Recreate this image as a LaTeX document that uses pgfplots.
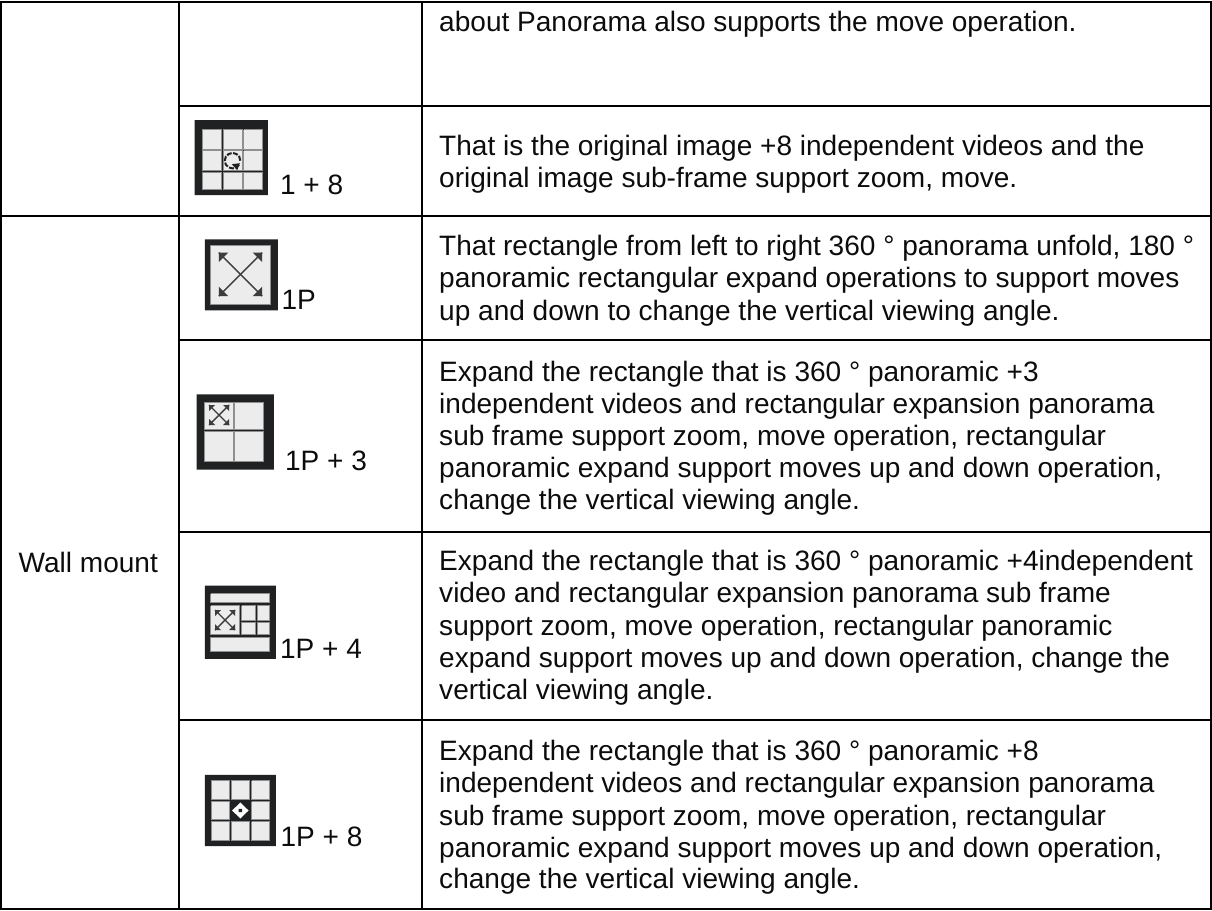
\documentclass[border=0pt]{standalone}
\usepackage{fontspec}
\setmainfont{Liberation Sans}
\usepackage{pgfplots}
\pgfplotsset{compat=1.18}
\definecolor{frm}{HTML}{202122}
\definecolor{cel}{HTML}{ECECEC}
\definecolor{celb}{HTML}{909090}
\definecolor{txt}{HTML}{0C0C0C}
\newcommand\Rct[5]{\addplot[#5,forget plot] coordinates {(#1,#2)(#3,#2)(#3,#4)(#1,#4)(#1,#2)};}
\newcommand\Frm[4]{\Rct{#1}{#2}{#3}{#4}{fill=frm,draw=none}}
\newcommand\Cel[4]{\Rct{#1}{#2}{#3}{#4}{fill=cel,draw=celb,line width=1pt}}
\newcommand\Ln[4]{\addplot[black,line width=2pt,forget plot] coordinates {(#1,#2)(#3,#4)};}
\newcommand\XA[5]{%
\pgfmathsetmacro\xa{#1-#3}\pgfmathsetmacro\xb{#1+#3}%
\pgfmathsetmacro\ya{#2-#3}\pgfmathsetmacro\yb{#2+#3}%
\pgfmathsetmacro\xc{#1-#3+#4}\pgfmathsetmacro\xd{#1+#3-#4}%
\pgfmathsetmacro\yc{#2-#3+#4}\pgfmathsetmacro\yd{#2+#3-#4}%
\addplot[#5,line width=1.3pt,forget plot] coordinates {(\xa,\ya)(\xb,\yb)};
\addplot[#5,line width=1.3pt,forget plot] coordinates {(\xa,\yb)(\xb,\ya)};
\addplot[fill=#5,draw=none,forget plot] coordinates {(\xa,\ya)(\xc,\ya)(\xa,\yc)(\xa,\ya)};
\addplot[fill=#5,draw=none,forget plot] coordinates {(\xb,\ya)(\xd,\ya)(\xb,\yc)(\xb,\ya)};
\addplot[fill=#5,draw=none,forget plot] coordinates {(\xa,\yb)(\xc,\yb)(\xa,\yd)(\xa,\yb)};
\addplot[fill=#5,draw=none,forget plot] coordinates {(\xb,\yb)(\xd,\yb)(\xb,\yd)(\xb,\yb)};
}
\newcommand\T[3]{\node[anchor=base west,inner sep=0pt,text=txt,font=\fontsize{28}{32}\selectfont] at (axis cs:#1,#2) {#3};}
\begin{document}
\begin{tikzpicture}
\begin{axis}[
  width=1212pt,height=910pt,scale only axis,
  xmin=0,xmax=1212,ymin=0,ymax=910,y dir=reverse,
  hide axis,clip=true]
% grid
\Ln{2.5}{3}{1211}{3}
\Ln{2.5}{909}{1211}{909}
\Ln{2.5}{2}{2.5}{910}
\Ln{180}{2}{180}{910}
\Ln{423}{2}{423}{910}
\Ln{1211}{2}{1211}{910}
\Ln{180}{107}{1211}{107}
\Ln{2.5}{217}{1211}{217}
\Ln{180}{341}{1211}{341}
\Ln{180}{532}{1211}{532}
\Ln{180}{720}{1211}{720}
% icon 1 + 8
\Frm{196}{121}{269}{196}
\Cel{203.5}{130.7}{222.5}{150}\Cel{224.5}{130.7}{243.5}{150}\Cel{245}{130.7}{263.5}{150}
\Cel{203.5}{151.7}{222.5}{171}\Cel{224.5}{151.7}{243.5}{171}\Cel{245}{151.7}{263.5}{171}
\Cel{203.5}{173}{222.5}{190}\Cel{224.5}{173}{243.5}{190}\Cel{245}{173}{263.5}{190}
\addplot[frm,line width=2pt,dash pattern=on 5pt off 1.5pt,forget plot] coordinates {(241.5,161.5)(240.5,157.6)(237.6,154.8)(233.8,153.7)(229.9,154.8)(227,157.6)(226,161.5)(227,165.3)(229.9,168.2)(233.8,169.2)(237.6,168.2)(240.5,165.3)};
\addplot[fill=frm,draw=none,forget plot] coordinates {(233,165)(241,164)(238.5,171)(233,165)};
% icon 1P
\Frm{206}{240}{279}{311}
\Cel{212}{245.7}{272}{305}
\XA{241.7}{275}{21.7}{9.5}{frm!88!white}
% icon 1P+3
\Frm{198}{395}{275}{470}
\Cel{206}{403}{234.5}{429.5}\Cel{236}{403}{265}{429.5}
\Cel{206}{431.5}{234.5}{462}\Cel{236}{431.5}{265}{462}
\XA{220.3}{415.5}{10}{6}{frm!88!white}
% icon 1P+4
\Frm{206}{586}{277}{659}
\Cel{212}{594}{271}{603}
\Cel{212}{606}{241}{635}
\Cel{242.7}{606}{256.7}{620.7}\Cel{258.3}{606}{271}{620.7}
\Cel{242.7}{622.7}{256.7}{635}\Cel{258.3}{622.7}{271}{635}
\Cel{212}{637.3}{271}{651.7}
\XA{226.3}{620.3}{10}{6}{frm!88!white}
% icon 1P+8
\Frm{206}{775}{277}{846}
\Cel{212.3}{781}{230.3}{799.3}\Cel{232.3}{781}{250.7}{799.3}\Cel{252.7}{781}{271}{799.3}
\Cel{212.3}{801.7}{230.3}{819.3}\Rct{232.3}{801.7}{250.7}{819.3}{fill=frm,draw=none}\Cel{252.7}{801.7}{271}{819.3}
\Cel{212.3}{821.7}{230.3}{840}\Cel{232.3}{821.7}{250.7}{840}\Cel{252.7}{821.7}{271}{840}
\addplot[fill=white,draw=none,forget plot] coordinates {(241.5,802.5)(245.5,806.5)(249.8,810.5)(245.5,814.5)(241.5,818.5)(237.5,814.5)(233.2,810.5)(237.5,806.5)(241.5,802.5)};
\Rct{239.8}{808.8}{243.2}{812.2}{fill=frm,draw=none}
% texts, first column
\T{20}{573}{Wall mount}
\T{281}{195.7}{1 + 8}
\T{282.5}{310.5}{1P}
\T{286}{471}{1P + 3}
\T{281}{659}{1P + 4}
\T{281.5}{846.5}{1P + 8}
% description
\T{440}{32}{about Panorama also supports the move operation.}
\T{440}{156.5}{That is the original image +8 independent videos and the}
\T{440}{188.5}{original image sub-frame support zoom, move.}
\T{440}{256}{That rectangle from left to right 360 ° panorama unfold, 180 °}
\T{440}{288.5}{panoramic rectangular expand operations to support moves}
\T{440}{321}{up and down to change the vertical viewing angle.}
\T{440}{382}{Expand the rectangle that is 360 ° panoramic +3}
\T{440}{414}{independent videos and rectangular expansion panorama}
\T{440}{446}{sub frame support zoom, move operation, rectangular}
\T{440}{478}{panoramic expand support moves up and down operation,}
\T{440}{510}{change the vertical viewing angle.}
\T{440}{571}{Expand the rectangle that is 360 ° panoramic +4independent}
\T{440}{603}{video and rectangular expansion panorama sub frame}
\T{440}{635.5}{support zoom, move operation, rectangular panoramic}
\T{440}{667.5}{expand support moves up and down operation, change the}
\T{440}{699.5}{vertical viewing angle.}
\T{440}{761}{Expand the rectangle that is 360 ° panoramic +8}
\T{440}{793}{independent videos and rectangular expansion panorama}
\T{440}{825}{sub frame support zoom, move operation, rectangular}
\T{440}{857}{panoramic expand support moves up and down operation,}
\T{440}{888.5}{change the vertical viewing angle.}
\end{axis}
\end{tikzpicture}
\end{document}
